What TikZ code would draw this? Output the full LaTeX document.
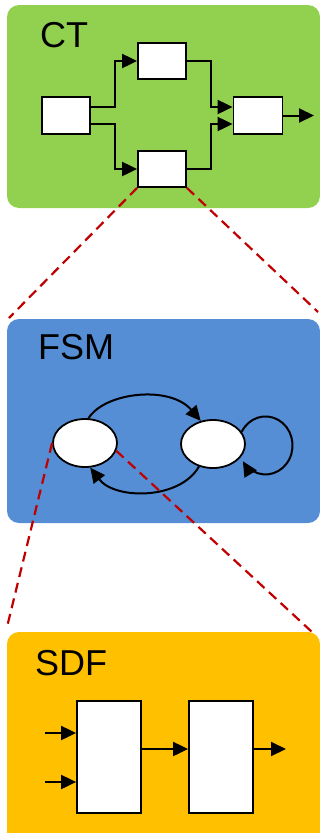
\documentclass[tikz,border=0pt]{standalone}
\usepackage{fontspec}
\setmainfont{Liberation Sans}
\usetikzlibrary{arrows.meta,shapes.geometric}

\definecolor{ctgreen}{HTML}{92D050}
\definecolor{fsmblue}{HTML}{558ED5}
\definecolor{sdfyellow}{HTML}{FFC000}
\definecolor{zoomred}{HTML}{C00000}

\tikzset{
  panel/.style={rounded corners=12pt, draw=none},
  title/.style={anchor=base west, inner sep=0pt, font=\fontsize{36}{36}\selectfont},
  block/.style={draw=black, fill=white, line width=1.8pt, inner sep=0pt},
  state/.style={ellipse, draw=black, fill=white, line width=1.8pt, inner sep=0pt,
                minimum width=64pt, minimum height=48pt},
  arr/.style={line width=2pt, -{Triangle[length=15pt,width=14pt]}},
  zoomline/.style={draw=zoomred, line width=2.2pt, dash pattern=on 10pt off 6pt}
}

\begin{document}
\begin{tikzpicture}[x=1pt, y=1pt]
  \useasboundingbox (0,0) rectangle (320,-833);
  \clip (0,0) rectangle (320,-833);

  % background panels
  \fill[panel, ctgreen]    (7,-5)   rectangle (320,-208);
  \fill[panel, fsmblue]    (7,-319) rectangle (320,-523);
  \fill[panel, sdfyellow]  (7,-632) rectangle (320,-850);

  % ---------- CT ----------
  \node[title] (ctlabel) at (40,-47) {CT};
  \node[block, minimum width=48pt, minimum height=37pt] (ct1) at (66,-115.5) {};
  \node[block, minimum width=48pt, minimum height=36pt] (ct2) at (162,-61) {};
  \node[block, minimum width=48pt, minimum height=36pt] (ct3) at (162,-169) {};
  \node[block, minimum width=49pt, minimum height=37pt] (ct4) at (258,-115.5) {};
  \coordinate (ctout) at (314,-115.5);

  \draw[arr] ([yshift=8.5pt]ct1.east) -- ++(24,0) |- (ct2.west);
  \draw[arr] ([yshift=-8.5pt]ct1.east) -- ++(24,0) |- (ct3.west);
  \draw[arr] (ct2.east) -- ++(24,0) |- ([yshift=8.5pt]ct4.west);
  \draw[arr] (ct3.east) -- ++(24,0) |- ([yshift=-8.5pt]ct4.west);
  \draw[arr] (ct4.east) -- (ctout);

  % ---------- FSM ----------
  \node[title] (fsmlabel) at (38,-359) {FSM};
  \node[state] (s1) at (85,-443) {};
  \node[state] (s2) at (213,-444) {};

  \draw[arr] (s1.82) .. controls (105,-392) and (170,-385) .. (s2.118);
  \draw[arr] (s2.238) .. controls (180,-500) and (115,-500) .. (s1.282);
  \draw[arr] (s2.23) arc[start angle=152, end angle=-147, x radius=27, y radius=29];

  % ---------- SDF ----------
  \node[title] (sdflabel) at (35,-675) {SDF};
  \node[block, minimum width=64pt, minimum height=112pt] (sd1) at (109,-757) {};
  \node[block, minimum width=64pt, minimum height=112pt] (sd2) at (221,-757) {};
  \coordinate (in1) at (45,-733);
  \coordinate (in2) at (45,-782);
  \coordinate (sdout) at (286,-749);

  \draw[arr] (in1) -- (in1 -| sd1.west);
  \draw[arr] (in2) -- (in2 -| sd1.west);
  \draw[arr] ([yshift=8pt]sd1.east) -- ([yshift=8pt]sd2.west);
  \draw[arr] ([yshift=8pt]sd2.east) -- (sdout);

  % ---------- zoom-in guides ----------
  \coordinate (fsmtl) at (9,-318);
  \coordinate (fsmtr) at (318,-312);
  \coordinate (sdftl) at (7,-627);
  \coordinate (sdftr) at (312,-632);

  \draw[zoomline] (ct3.south west) -- (fsmtl);
  \draw[zoomline] (ct3.south east) -- (fsmtr);
  \draw[zoomline] (s1.west) -- (sdftl);
  \draw[zoomline] (s1.-14) -- (sdftr);
\end{tikzpicture}
\end{document}
